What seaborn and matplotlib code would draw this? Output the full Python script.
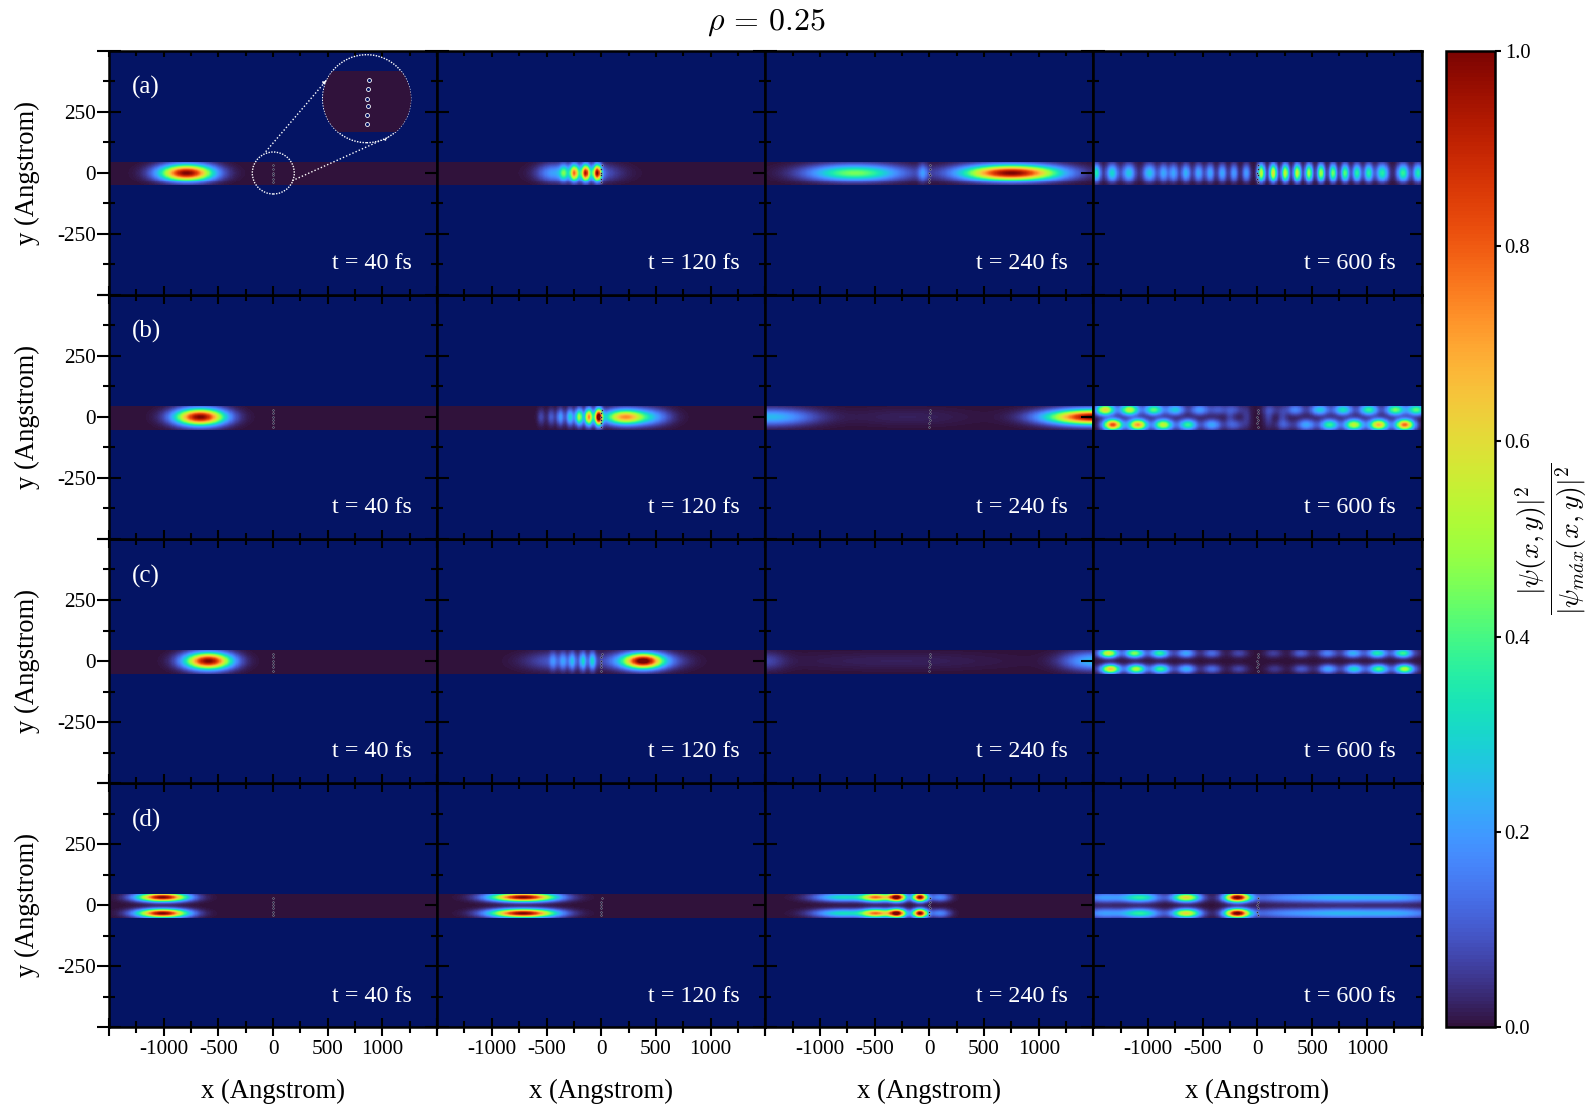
import numpy as np
import seaborn as sns
import matplotlib.pyplot as plt
from matplotlib.patches import Circle, FancyArrowPatch

# blobs: (x, y, sigma x, sigma y, height)
a40 = [(-790, 0, 160, 22, 1.0)]
a120 = [(-190, 0, 200, 24, 0.2), (-450, 0, 90, 24, 0.12), (-35, 0, 26, 22, 0.85), (-142, 0, 26, 22, 0.75),
        (-246, 0, 26, 22, 0.58), (-343, 0, 26, 22, 0.25)]
a240 = [(750, 0, 290, 21, 1.0), (-683, 0, 280, 22, 0.45), (-58, 0, 30, 24, 0.15)]
a600_x = [-1474, -1328, -1176, -987, -859, -767, -654, -538, -434, -322, -215, -102,
          35, 145, 254, 364, 471, 581, 691, 801, 910, 1017, 1142, 1331, 1469]
a600_sx = [30, 38, 42, 42, 30, 30, 30, 30, 28, 28, 26, 26,
           24, 24, 24, 24, 24, 24, 24, 26, 28, 28, 38, 38, 30]
a600_amp = [0.35, 0.3, 0.27, 0.27, 0.22, 0.22, 0.24, 0.22, 0.22, 0.22, 0.2, 0.2,
            0.55, 0.6, 0.55, 0.55, 0.5, 0.5, 0.45, 0.42, 0.36, 0.36, 0.36, 0.38, 0.35]

b40 = [(-666, 0, 150, 22, 1.0)]
b120 = [(209, 0, 120, 20, 0.68), (430, 0, 130, 22, 0.22), (-23, 0, 25, 22, 1.0),
        (-113, 0, 25, 22, 0.72), (-201, 0, 25, 22, 0.5), (-284, 0, 25, 22, 0.28),
        (-372, 0, 25, 22, 0.2), (-457, 0, 25, 22, 0.1), (-548, 0, 25, 22, 0.07)]
b240 = [(1500, 0, 280, 20, 1.0), (-1450, 0, 260, 22, 0.25), (-200, 0, 400, 24, 0.02)]
b600_top_x = [-1392, -1169, -947, -752, -529, -361, -209, 127, 346, 569, 782, 1017, 1261, 1453]
b600_top_amp = [0.62, 0.55, 0.42, 0.28, 0.2, 0.1, 0.08, 0.06, 0.17, 0.28, 0.33, 0.38, 0.45, 0.42]
b600_low_x = [-1322, -1093, -861, -636, -416, -209, 249, 447, 660, 882, 1108, 1347]
b600_low_amp = [0.82, 0.72, 0.55, 0.38, 0.22, 0.1, 0.08, 0.22, 0.38, 0.55, 0.68, 0.78]
b600_mid = [(-250, 0, 30, 30, 0.05), (-100, 0, 30, 30, 0.05), (100, 0, 30, 30, 0.06), (230, 0, 30, 30, 0.06)]

c40 = [(-592, 0, 140, 22, 1.0)]
c120 = [(385, 0, 110, 20, 0.75), (370, 0, 200, 22, 0.32), (-400, 0, 200, 24, 0.1),
        (-81, 0, 22, 24, 0.25), (-166, 0, 22, 24, 0.25), (-264, 0, 22, 24, 0.18),
        (-349, 0, 22, 24, 0.12), (-440, 0, 22, 24, 0.1)]
c240 = [(1500, 0, 180, 24, 0.25), (-1500, 0, 120, 24, 0.07), (-300, 0, 700, 24, 0.02)]
c600_top_x = [-1362, -1124, -892, -651, -416, -169, 145, 395, 639, 873, 1096, 1331]
c600_top_amp = [0.55, 0.42, 0.33, 0.2, 0.12, 0.07, 0.06, 0.1, 0.14, 0.2, 0.3, 0.35]
c600_low_x = [-1343, -1108, -885, -648, -413, -169, 157, 401, 645, 882, 1108, 1347]
c600_low_amp = [0.62, 0.47, 0.35, 0.22, 0.12, 0.07, 0.05, 0.09, 0.2, 0.27, 0.36, 0.48]
c600_band = [(-1100, 33, 350, 13, 0.05), (-1100, -31, 350, 13, 0.05),
             (1100, 33, 350, 13, 0.05), (1100, -31, 350, 13, 0.05)]

d40 = [(-1010, 31, 150, 11.5, 1.0), (-1010, -33, 150, 11.5, 1.0)]
d120 = [(-713, 31, 195, 11.5, 1.0), (-713, -33, 195, 11.5, 1.0)]
d240_x = [-85, -295, -484, -789, 95]
d240_sx = [45, 55, 90, 180, 65]
d240_amp = [1.0, 1.0, 0.7, 0.32, 0.17]
d600_x = [-184, -651, -1069, -1400, 300, 800, 1300]
d600_sx = [75, 85, 120, 130, 300, 250, 250]
d600_sy = [12, 12, 13, 14, 14, 14, 14]
d600_amp = [1.0, 0.62, 0.36, 0.2, 0.16, 0.18, 0.2]

defect_x = [3, 2, 0, 2, 0, 1]
defect_y = [30, 15, 0, -11, -26, -40]

row_tags = ['(a)', '(b)', '(c)', '(d)']
times = ['t = 40 fs', 't = 120 fs', 't = 240 fs', 't = 600 fs']
x_major = [-1500, -1000, -500, 0, 500, 1000, 1500]
x_minor = [-1250, -750, -250, 250, 750, 1250]
x_labels = ['', '-1000', '-500', '0', '500', '1000', '']
y_major = [-500, -250, 0, 250, 500]
y_minor = [-375, -125, 125, 375]
y_labels = ['', '-250', '0', '250', '']
cbar_ticks = [0, 0.2, 0.4, 0.6, 0.8, 1.0]

navy = '#041464'
channel_top = 44
channel_low = -50
dx = 5
dy = 4
xc = np.arange(-1500 + dx / 2, 1500, dx)
yc = np.arange(-500 + dy / 2, 500, dy)
X, Y = np.meshgrid(xc, yc)


def fringes(xs, amps, y, sx, sy):
    return [(x, y, sx, sy, a) for x, a in zip(xs, amps)]


def lobes(xs, sxs, amps, y, sy):
    return [(x, y, s, sy, a) for x, s, a in zip(xs, sxs, amps)]


def lobes_sy(xs, sxs, sys, amps, y):
    return [(x, y, s, t, a) for x, s, t, a in zip(xs, sxs, sys, amps)]


def field(blobs):
    z = np.zeros(X.shape)
    for x0, y0, sx, sy, a in blobs:
        z += a * np.exp(-((X - x0) / sx) ** 2 / 2 - ((Y - y0) / sy) ** 2 / 2)
    return np.clip(z, 0, 1)


def cx(v):
    return (np.asarray(v, dtype=float) + 1500) / dx


def cy(v):
    return (np.asarray(v, dtype=float) + 500) / dy


a600 = lobes(a600_x, a600_sx, a600_amp, 0, 24)
b600 = (fringes(b600_top_x, b600_top_amp, 29, 58, 15) + fringes(b600_low_x, b600_low_amp, -31, 58, 15) + b600_mid)
c600 = (fringes(c600_top_x, c600_top_amp, 31, 55, 12) + fringes(c600_low_x, c600_low_amp, -32, 55, 12) + c600_band)
d240 = lobes(d240_x, d240_sx, d240_amp, 31, 11.5) + lobes(d240_x, d240_sx, d240_amp, -33, 11.5)
d600 = lobes_sy(d600_x, d600_sx, d600_sy, d600_amp, 30) + lobes_sy(d600_x, d600_sx, d600_sy, d600_amp, -33)
panels = [[a40, a120, a240, a600], [b40, b120, b240, b600],
          [c40, c120, c240, c600], [d40, d120, d240, d600]]

sns.set_style('white')
plt.rcParams['font.family'] = ['Liberation Serif']
plt.rcParams['mathtext.fontset'] = 'cm'

W, H = 1594, 1107
fig, axes = plt.subplots(4, 4, figsize=(W / 100, H / 100))
fig.subplots_adjust(left=109 / W, right=1421.5 / W, top=1 - 50.6 / H, bottom=1 - 1027.3 / H,
                    wspace=0, hspace=0)
cax = fig.add_axes([1446 / W, 1 - 1027.3 / H, 49 / W, (1027.3 - 50.6) / H])
mask = (Y > channel_top) | (Y < channel_low)

for r in range(4):
    for c in range(4):
        ax = axes[r, c]
        ax.set_zorder((3 - r) * 10 + c)
        sns.heatmap(field(panels[r][c]), mask=mask, cmap='turbo', vmin=0, vmax=1, ax=ax,
                    cbar=(r == 0 and c == 0), cbar_ax=cax if (r == 0 and c == 0) else None,
                    xticklabels=False, yticklabels=False, cbar_kws={'ticks': cbar_ticks})
        ax.set_facecolor(navy)
        ax.set_xlim(0, len(xc))
        ax.set_ylim(0, len(yc))
        ax.scatter(cx(defect_x), cy(defect_y), s=1.6, facecolor='#20204a', edgecolor='#aaaaaa',
                   linewidth=0.3, zorder=3)
        for s in ax.spines.values():
            s.set_visible(True)
            s.set_linewidth(1.8)
            s.set_color('black')
        ax.set_xticks(cx(x_major))
        ax.set_xticks(cx(x_minor), minor=True)
        ax.set_yticks(cy(y_major))
        ax.set_yticks(cy(y_minor), minor=True)
        ax.tick_params(axis='x', which='major', direction='inout', length=13, width=1.5, bottom=True,
                       color='black', labelsize=15.3, pad=3, labelcolor='black')
        ax.tick_params(axis='x', which='minor', direction='inout', length=8, width=1.5, bottom=True, color='black')
        ax.tick_params(axis='y', which='major', direction='inout', length=17, width=1.5, left=True,
                       color='black', labelsize=15.3, pad=1, labelcolor='black')
        ax.tick_params(axis='y', which='minor', direction='inout', length=8.5, width=1.5, left=True, color='black')
        ax.set_xticklabels(x_labels if r == 3 else [''] * len(x_major))
        ax.set_yticklabels(y_labels if c == 0 else [''] * len(y_major), rotation=0)
        for t in ax.get_yticklabels() + ax.get_xticklabels():
            t.set_rotation(0)
        if r == 3:
            ax.set_xlabel('x (Angstrom)', fontsize=19.2, labelpad=14, color='black')
        else:
            ax.set_xlabel('')
        if c == 0:
            ax.set_ylabel('y (Angstrom)', fontsize=19.2, labelpad=12, color='black')
        else:
            ax.set_ylabel('')
        ax.text(0.923, 0.105, times[c], color='white', fontsize=17.4, ha='right', va='baseline', transform=ax.transAxes)
        if c == 0:
            ax.text(0.069, 0.823, row_tags[r], color='white', fontsize=18, ha='left', va='baseline', transform=ax.transAxes)
        if r == 0:
            top = ax.secondary_xaxis('top')
            top.set_xticks(cx(x_major))
            top.set_xticks(cx(x_minor), minor=True)
            top.tick_params(which='major', direction='in', length=4.5, width=1.5, labeltop=False, top=True, color='black')
            top.tick_params(which='minor', direction='in', length=3.5, width=1.5, top=True, color='black')
        if c == 3:
            right = ax.secondary_yaxis('right')
            right.set_yticks(cy(y_major))
            right.set_yticks(cy(y_minor), minor=True)
            right.tick_params(which='major', direction='in', length=8.5, width=1.5, labelright=False, right=True, color='black')
            right.tick_params(which='minor', direction='in', length=4.5, width=1.5, right=True, color='black')

# colorbar
cbar = axes[0, 0].collections[0].colorbar
cbar.outline.set_visible(True)
cbar.outline.set_linewidth(1.8)
cbar.outline.set_edgecolor('black')
cax.tick_params(which='major', right=True, direction='out', length=4, width=1.5, labelsize=14.8, pad=3,
                color='black', labelcolor='black')
cax.yaxis.set_major_formatter(plt.FormatStrFormatter('%.1f'))
fig.text(1551 / W, 1 - 539 / H, r'$\dfrac{|\psi(x,y)|^2}{|\psi_{m\acute{a}x}(x,y)|^2}$', fontsize=20,
         rotation=90, ha='center', va='center', color='black')

fig.text(767 / W, 1 - 22 / H, r'$\rho\,=\,0.25$', fontsize=23, ha='center', va='center', color='black')

# zoom circle on panel (a)
inset_cx, inset_cy, inset_r = 366.7, 98.7, 44
inset = fig.add_axes([(inset_cx - inset_r) / W, 1 - (inset_cy + inset_r) / H, 2 * inset_r / W, 2 * inset_r / H])
inset.set_zorder(200)
sns.heatmap(field(a40), mask=mask, cmap='turbo', vmin=0, vmax=1, ax=inset, cbar=False,
            xticklabels=False, yticklabels=False)
zoom_half = 69.3
inset.set_xlim(cx(-zoom_half), cx(zoom_half))
inset.set_ylim(cy(-zoom_half), cy(zoom_half))
inset.axis('off')
ring = Circle((0.5, 0.5), 0.5, transform=inset.transAxes, facecolor=navy, edgecolor='white',
              linestyle=(0, (1, 1)), linewidth=1.0, zorder=0, clip_on=False)
inset.add_patch(ring)
inset.collections[0].set_clip_path(ring)
inset.scatter(cx(defect_x), cy(defect_y), s=8, facecolor=navy, edgecolor='white', linewidth=0.6, zorder=3)


def fp(px, py):
    return (px / W, 1 - py / H)


small = Circle((273.3 / 100, (H - 173) / 100), 21 / 100, transform=fig.dpi_scale_trans, fill=False,
               edgecolor='white', linestyle=(0, (1, 1)), linewidth=1.0, zorder=150)
fig.add_artist(small)
for a, b in [((265.7, 151.7), (327.3, 79.3)), ((292.3, 180.7), (389, 136.7))]:
    arrow = FancyArrowPatch(fp(*a), fp(*b), transform=fig.transFigure, arrowstyle='-|>', mutation_scale=7,
                            color='white', linestyle=(0, (1, 1.5)), linewidth=1.0, shrinkA=0, shrinkB=0, zorder=150,
                            capstyle='butt')
    fig.add_artist(arrow)

fig.savefig('out.png', dpi=100, format='png')
plt.close()
